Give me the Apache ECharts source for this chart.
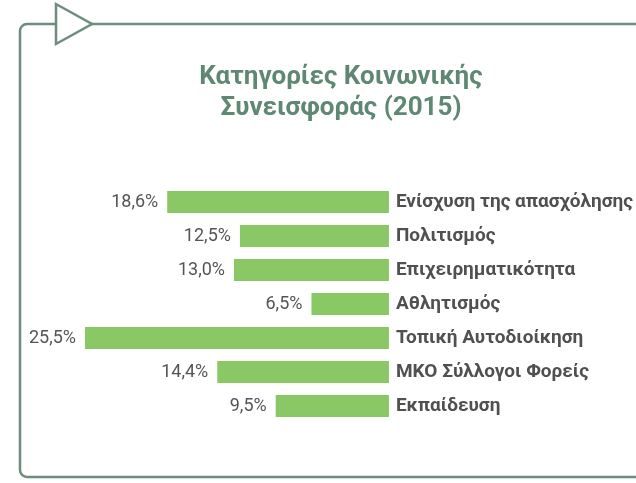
<!DOCTYPE html>
<html>
<head>
<meta charset="utf-8">
<script src="https://cdn.jsdelivr.net/npm/echarts@6/dist/echarts.min.js"></script>
<style>
  html, body { margin: 0; padding: 0; background: #fff; }
  #chart { width: 636px; height: 483px; }
</style>
</head>
<body>
<div id="chart"></div>
<script>
// categories, top to bottom
const categories = [
  'Ενίσχυση της απασχόλησης',
  'Πολιτισμός',
  'Επιχειρηματικότητα',
  'Αθλητισμός',
  'Τοπική Αυτοδιοίκηση',
  'ΜΚΟ Σύλλογοι Φορείς',
  'Εκπαίδευση'
];
// share in %
const shares = [18.6, 12.5, 13.0, 6.5, 25.5, 14.4, 9.5];

const frameColor = '#6d8c7e';
const chart = echarts.init(document.getElementById('chart'));

chart.setOption({
  animation: false,
  title: {
    text: 'Κατηγορίες Κοινωνικής\nΣυνεισφοράς (2015)',
    left: 336,
    top: 57,
    textAlign: 'center',
    textStyle: {
      fontFamily: 'Roboto',
      fontSize: 26,
      fontWeight: 'bold',
      color: '#5e8873',
      lineHeight: 31
    }
  },
  grid: { left: 85, right: 246, top: 185, height: 238 },
  xAxis: {
    type: 'value',
    inverse: true,
    min: 0,
    max: 25.5,
    show: false
  },
  yAxis: {
    type: 'category',
    data: categories,
    inverse: true,
    position: 'right',
    axisLine: { show: false },
    axisTick: { show: false },
    axisLabel: {
      margin: 7,
      fontFamily: 'Roboto',
      fontSize: 19,
      fontWeight: 'bold',
      color: '#505050'
    }
  },
  series: [{
    type: 'bar',
    data: shares,
    barWidth: 22,
    itemStyle: { color: '#8ac765' },
    label: {
      show: true,
      position: 'left',
      distance: 9,
      fontFamily: 'Roboto',
      fontSize: 18,
      color: '#555555',
      formatter: p => p.value.toFixed(1).replace('.', ',') + '%'
    }
  }],
  graphic: [
    {
      type: 'rect',
      shape: { x: 20, y: 24, width: 700, height: 453, r: 7 },
      style: { fill: 'none', stroke: frameColor, lineWidth: 2.5 },
      z: -1
    },
    {
      type: 'polygon',
      shape: { points: [[56, 4], [56, 44], [92, 24]] },
      style: { fill: '#ffffff', stroke: frameColor, lineWidth: 2.5 }
    }
  ]
});
</script>
</body>
</html>
